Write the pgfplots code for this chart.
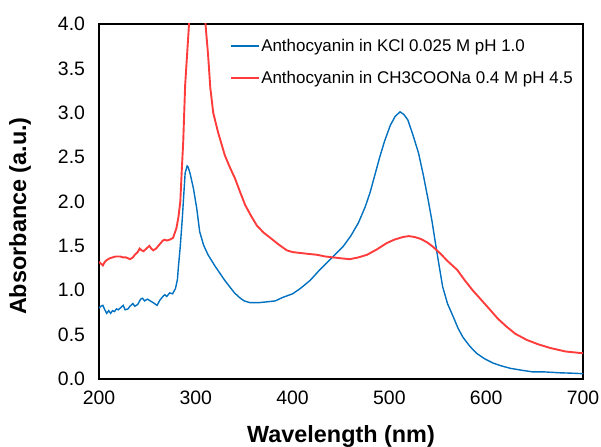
\documentclass[border=0pt]{standalone}
\usepackage{pgfplots}
\pgfplotsset{compat=1.18}
\usepackage{fontspec}
\setmainfont{Liberation Sans}
\definecolor{cblue}{RGB}{0,112,192}
\definecolor{cred}{RGB}{255,60,60}
\begin{document}
\begin{tikzpicture}
\begin{axis}[
  scale only axis,
  width=484bp, height=355bp,
  xmin=200, xmax=700, ymin=0, ymax=4,
  xtick={200,300,...,700},
  ytick={0,0.5,...,4},
  major tick length=0pt,
  axis line style={line width=1.8bp, black},
  /pgf/number format/assume math mode=true,
  yticklabel style={/pgf/number format/fixed,/pgf/number format/fixed zerofill,/pgf/number format/precision=1},
  ticklabel style={font=\fontsize{19.5}{23}\selectfont},
  xticklabel style={yshift=-8.5bp},
  yticklabel style={xshift=-10.5bp},
  xlabel={\bfseries Wavelength (nm)},
  ylabel={\bfseries Absorbance (a.u.)},
  label style={font=\fontsize{23.5}{27}\selectfont},
  xlabel style={at={(axis description cs:0.5,-0.1606)}, anchor=center},
  ylabel style={at={(axis description cs:-0.163,0.459)}, anchor=center},
  clip=true,
  legend cell align=left,
  legend style={draw=none, fill=none, at={(0.270,0.962)}, anchor=north west,
    font=\fontsize{17}{20}\selectfont, inner sep=0pt, row sep=15bp,
    nodes={inner sep=1.5bp}},
  legend image code/.code={\draw[#1] (0bp,0bp) -- (28bp,0bp);},
]
\addplot[cblue, line width=1.4bp] coordinates {
(200,0.80)(202,0.82)(204,0.83)(206,0.78)(208,0.74)(210,0.77)(212,0.74)(214,0.77)
(216,0.76)(218,0.79)(220,0.78)(222,0.80)(225,0.83)(227,0.78)(230,0.79)(232,0.82)
(235,0.85)(237,0.82)(240,0.84)(243,0.90)(245,0.91)(247,0.88)(250,0.90)(253,0.88)
(256,0.86)(260,0.83)(263,0.89)(266,0.93)(268,0.95)(270,0.93)(273,0.97)(276,0.96)
(279,1.02)(281,1.12)(282,1.26)(284,1.50)(286,1.80)(288,2.15)(289,2.32)(291,2.40)
(292,2.39)(294,2.32)(297.5,2.15)(301,1.92)(304,1.66)(308,1.51)(312.6,1.40)(316,1.34)
(320,1.27)(325,1.19)(330,1.11)(335,1.04)(340,0.97)(346,0.91)(350,0.88)(356,0.86)
(365,0.86)(374,0.87)(382,0.88)(390,0.92)(400,0.96)(408,1.02)(418,1.11)(428,1.23)
(440,1.36)(452,1.49)(460,1.61)(468,1.76)(475,1.94)(480,2.10)(485,2.30)(490,2.50)
(495,2.68)(501,2.86)(506,2.96)(511,3.01)(515,2.98)(519,2.92)(524,2.76)(530,2.55)
(535,2.30)(540,2.02)(544,1.78)(547,1.57)(551,1.30)(555,1.04)(560,0.85)(566,0.70)
(571,0.57)(576,0.47)(583,0.37)(590,0.29)(598,0.23)(607,0.18)(615,0.15)(625,0.12)
(636,0.10)(648,0.08)(660,0.08)(676,0.07)(690,0.065)(700,0.06)
};
\addlegendentry{Anthocyanin in KCl 0.025 M pH 1.0}
\addplot[cred, line width=1.9bp] coordinates {
(200,1.32)(202,1.30)(204,1.28)(206,1.32)(208,1.34)(211,1.36)(214,1.37)(217,1.38)
(220,1.38)(222,1.38)(225,1.37)(228,1.37)(230,1.36)(232,1.35)(235,1.37)(237,1.40)
(240,1.43)(242,1.47)(244,1.45)(246,1.44)(249,1.47)(252,1.50)(254,1.47)(256,1.45)
(259,1.47)(262,1.51)(266,1.56)(268,1.57)(270,1.56)(273,1.57)(276.5,1.59)(280,1.70)
(282,1.82)(284,2.00)(285.5,2.35)(287,2.67)(289,3.31)(293,4.0)(297,5.0)(301,5.5)
(305,5.2)(308,4.5)(310,4.0)(312.7,3.65)(315,3.28)(318,3.0)(323,2.78)(330,2.52)
(335,2.39)(340.5,2.26)(346,2.10)(351,1.96)(357,1.84)(363,1.73)(370,1.65)(377,1.59)
(385,1.52)(394,1.45)(400,1.43)(408,1.42)(416,1.41)(425,1.40)(434,1.38)(442,1.37)
(450,1.36)(459,1.35)(468,1.37)(477,1.40)(487,1.46)(497,1.53)(505,1.57)(514,1.60)
(520,1.61)(526,1.60)(532,1.58)(539,1.54)(545,1.49)(552,1.42)(560,1.33)(570,1.23)
(578,1.11)(586,1.00)(595,0.89)(604,0.78)(612,0.68)(621,0.59)(630,0.51)(642,0.44)
(654,0.39)(666,0.35)(682,0.31)(700,0.29)
};
\addlegendentry{Anthocyanin in CH3COONa 0.4 M pH 4.5}
\end{axis}
\pgfresetboundingbox
\path[use as bounding box] ([shift={(-99bp,-67bp)}]current axis.south west) rectangle ([shift={(18bp,24bp)}]current axis.north east);
\end{tikzpicture}
\end{document}
